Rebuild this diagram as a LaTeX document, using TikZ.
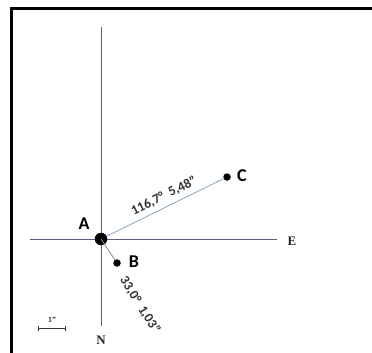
\documentclass[tikz,border=0pt]{standalone}
\usepackage{fontspec}
\newfontfamily\lbl{Carlito}
\newfontfamily\serifb{Liberation Serif}
\definecolor{axis}{HTML}{5A5E78}
\definecolor{acline}{HTML}{7FA9C4}
\definecolor{abline}{HTML}{8A8A8A}
\tikzset{
  dot/.style={circle,fill=black,inner sep=0pt,minimum size=#1},
  ptlabel/.style={font=\lbl\bfseries\fontsize{18}{18}\selectfont,inner sep=0pt},
  dirlabel/.style={font=\serifb\bfseries\fontsize{13}{13}\selectfont,inner sep=0pt,text=black!85},
  measure/.style={font=\lbl\bfseries\fontsize{13.5}{13.5}\selectfont,inner sep=0pt,text=black!80},
  axisline/.style={draw=axis,line width=0.9pt},
}
\begin{document}
\begin{tikzpicture}[x=1pt,y=-1pt]
\useasboundingbox (0,0) rectangle (372,353);
\fill[white] (0,0) rectangle (372,353);
% frame
\draw[line width=3pt,black] (11,353) -- (11,8.5) -- (372,8.5);
% axes
\coordinate (top) at (101,27);
\coordinate (bot) at (101,326);
\coordinate (left) at (30,239);
\coordinate (right) at (277,239);
\draw[axisline] (top) -- (bot);
\draw[axisline] (left) -- (right);
\node[dirlabel] (E) at (292,241) {E};
\node[dirlabel] (N) at (101,340) {N};
% points
\node[dot=12.5pt] (A) at (101,239) {};
\node[dot=7.5pt] (B) at (117,263) {};
\node[dot=7.5pt] (C) at (227,177) {};
\draw[abline,line width=0.8pt] (A.center) -- (B);
\draw[acline,line width=0.8pt] (A) -- (C);
\node[ptlabel] (lA) at (84,224) {A};
\node[ptlabel] (lB) at (134,262) {B};
\node[ptlabel] (lC) at (242,176) {C};
% measures
\node[measure,rotate=26.5] (mC) at (164,196) {116,7°\hspace{6pt}5,48”};
\node[measure,rotate=-58] (mB) at (140,305) {33,0°\hspace{6pt}1,03”};
% scale bar
\coordinate (s1) at (38,328.5);
\coordinate (s2) at (65,328.5);
\draw[black!80,line width=0.7pt] (s1) -- (s2);
\draw[black!80,line width=0.9pt] ([yshift=-2.5]s1) -- ([yshift=2.5]s1);
\draw[black!80,line width=0.9pt] ([yshift=-2.5]s2) -- ([yshift=2.5]s2);
\node[font=\serifb\bfseries\fontsize{8}{8}\selectfont,inner sep=0pt,text=black!80] (one) at (52,320) {1”};
\end{tikzpicture}
\end{document}
